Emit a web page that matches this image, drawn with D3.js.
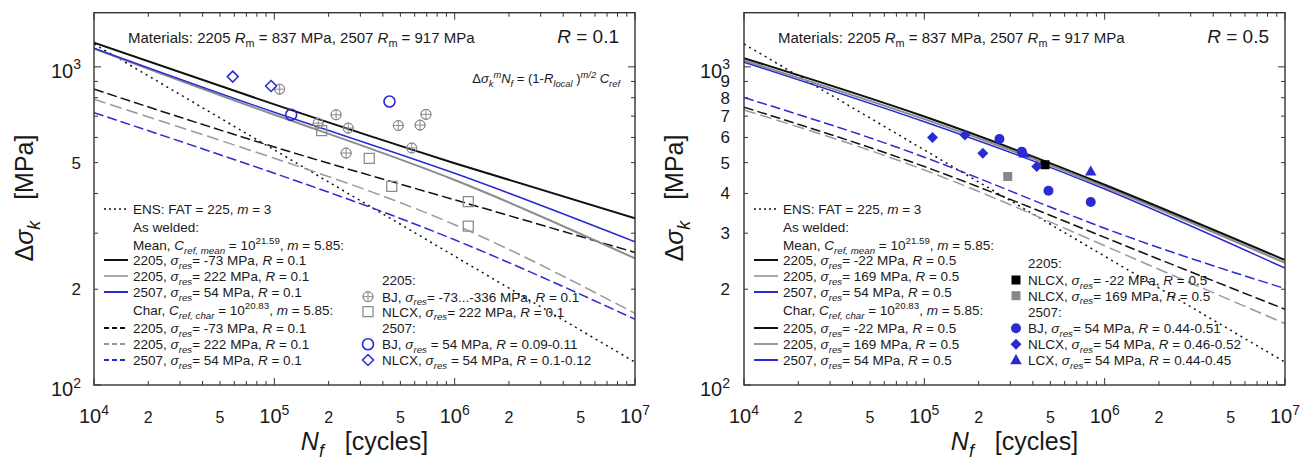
<!DOCTYPE html>
<html><head><meta charset="utf-8">
<script src="https://cdn.jsdelivr.net/npm/d3@7"></script>
<style>
body{margin:0;background:#fff}
svg{display:block}
text{font-family:"Liberation Sans",Arial,Helvetica,sans-serif;fill:#1a1a1a;white-space:pre}
</style>
</head><body>
<svg id="c" width="1300" height="461"></svg>
<script>
// ---------------- DATA ----------------
const N_GRID = [1e4, 1e5, 1e6, 1e7];
// R = 0.1 panel curves (MPa at N_GRID)
const L_ENS        = [1180, 548, 254, 118];
const L_MEAN_2205A = [1192, 762, 498, 334];   // sigma_res = -73
const L_MEAN_2205B = [1141, 707, 441, 250];   // sigma_res = 222
const L_MEAN_2507  = [1145, 720, 463, 282];   // sigma_res = 54
const L_CHAR_2205A = [851, 560, 382, 261];
const L_CHAR_2205B = [791, 516, 319, 168];
const L_CHAR_2507  = [718, 463, 286, 161];
// R = 0.5 panel curves
const R_ENS        = [1180, 548, 254, 118];
const R_MEAN_2205A = [1065, 698, 426, 247];   // sigma_res = -22
const R_MEAN_2205B = [1047, 685, 420, 242];   // sigma_res = 169
const R_MEAN_2507  = [1034, 672, 413, 233];
const R_CHAR_2205A = [747, 486, 291, 173];
const R_CHAR_2205B = [732, 474, 274, 156];
const R_CHAR_2507  = [801, 520, 311, 201];
// R = 0.1 test data
const L_BJ2205_N   = [107e3, 220e3, 175e3, 257e3, 250e3, 487e3, 643e3, 693e3, 578e3];
const L_BJ2205_S   = [851, 707, 665, 642, 536, 654, 656, 709, 556];
const L_NLCX2205_N = [183e3, 336e3, 448e3, 1.19e6, 1.19e6];
const L_NLCX2205_S = [630, 516, 421, 377, 316];
const L_BJ2507_N   = [124e3, 435e3];
const L_BJ2507_S   = [707, 778];
const L_NLCX2507_N = [58.8e3, 95.9e3];
const L_NLCX2507_S = [932, 871];
// R = 0.5 test data
const R_NLCX2205A_N = [467e3];
const R_NLCX2205A_S = [492];
const R_NLCX2205B_N = [290e3];
const R_NLCX2205B_S = [452];
const R_BJ2507_N   = [261e3, 347e3, 488e3, 837e3];
const R_BJ2507_S   = [593, 541, 408, 376];
const R_NLCX2507_N = [111e3, 168e3, 211e3, 420e3];
const R_NLCX2507_S = [600, 611, 535, 486];
const R_LCX2507_N  = [358e3, 837e3];
const R_LCX2507_S  = [535, 469];
// tick labels
const X_TICKS = [[1e4,'10','4'],[2e4,'2'],[5e4,'5'],[1e5,'10','5'],[2e5,'2'],[5e5,'5'],[1e6,'10','6'],[2e6,'2'],[5e6,'5'],[1e7,'10','7']];
const Y_TICKS_L = [[1000,'10','3'],[500,'5'],[200,'2'],[100,'10','2']];
const Y_TICKS_R = [[1000,'10','3'],[900,'9'],[800,'8'],[700,'7'],[600,'6'],[500,'5'],[400,'4'],[300,'3'],[200,'2'],[100,'10','2']];

// ---------------- STYLE ----------------
const BLACK = '#111', GREY = '#8c8c8c', GREYD = '#9a9a9a', BLUE = '#2b2bd2';
const PW = 541, YT = 12.7, YB = 385, LFS = 13.5;
const svg = d3.select('#c');

function rich(g, x, y, segs, size, anchor) {
  const t = g.append('text').attr('x', x).attr('y', y).attr('font-size', size)
    .attr('text-anchor', anchor || 'start');
  let off = 0;
  segs.forEach(s => {
    if (typeof s === 'string') s = {t: s};
    let target = 0, fs = size;
    if (s.sub) { target = size * 0.28; fs = size * 0.72; }
    if (s.sup) { target = -size * 0.42; fs = size * 0.72; }
    const ts = t.append('tspan').text(s.t).attr('font-size', fs);
    if (target - off !== 0) ts.attr('dy', target - off);
    if (s.i) ts.attr('font-style', 'italic');
    off = target;
  });
  return t;
}

function markerPath(type, r) {
  if (type === 'diamond') return `M0,${-r}L${r},0L0,${r}L${-r},0Z`;
  if (type === 'square') return `M${-r},${-r}H${r}V${r}H${-r}Z`;
  if (type === 'triangle') return `M0,${-r*1.1}L${r*1.05},${r*0.75}L${-r*1.05},${r*0.75}Z`;
  if (type === 'circle') return d3.arc()({innerRadius:0, outerRadius:r, startAngle:0, endAngle:2*Math.PI});
  if (type === 'oplus') return `M${-r},0H${r}M0,${-r}V${r}` + d3.arc()({innerRadius:r, outerRadius:r, startAngle:0, endAngle:2*Math.PI});
}
function drawMarker(g, x, y, m) {
  const p = g.append('path').attr('transform', `translate(${x},${y})`).attr('d', markerPath(m.type, m.r));
  if (m.fill) p.attr('fill', m.color).attr('stroke', 'none');
  else p.attr('fill', 'none').attr('stroke', m.color).attr('stroke-width', m.sw || 1.3);
}

const sres = (v) => [{t:'σ', i:true}, {t:'res', i:true, sub:true}, v];

function panel(cfg) {
  const x0 = cfg.x0;
  const x = d3.scaleLog().domain([1e4, 1e7]).range([x0, x0 + PW]);
  const y = d3.scaleLog().domain([100, 1480]).range([YB, YT]);
  const g = svg.append('g');
  const clipId = 'clip' + x0;
  g.append('clipPath').attr('id', clipId).append('rect')
    .attr('x', x0).attr('y', YT).attr('width', PW).attr('height', YB - YT);

  // ticks
  const tg = g.append('g').attr('stroke', '#333').attr('stroke-width', 1);
  const xt = [];
  [1e4, 1e5, 1e6].forEach(d => { for (let k = 1; k < 10; k++) xt.push([k * d, k === 1]); });
  xt.push([1e7, true]);
  xt.forEach(([v, maj]) => {
    const px = x(v), L = maj ? 7 : 4;
    tg.append('line').attr('x1', px).attr('x2', px).attr('y1', YB).attr('y2', YB - L);
    tg.append('line').attr('x1', px).attr('x2', px).attr('y1', YT).attr('y2', YT + L);
  });
  const yt = [];
  for (let k = 1; k <= 10; k++) yt.push([k * 100, k === 1 || k === 10]);
  yt.forEach(([v, maj]) => {
    const py = y(v), L = maj ? 7 : 4;
    tg.append('line').attr('x1', x0).attr('x2', x0 + L).attr('y1', py).attr('y2', py);
    tg.append('line').attr('x1', x0 + PW).attr('x2', x0 + PW - L).attr('y1', py).attr('y2', py);
  });

  // tick labels
  X_TICKS.forEach(([v, a, b]) => {
    if (b) rich(g, x(v), 423, [a, {t: b, sup: true}], 20, 'middle').select('tspan:last-child').attr('font-size', 14);
    else rich(g, x(v), 423, [a], 16, 'middle');
  });
  cfg.yticks.forEach(([v, a, b]) => {
    if (b) {
      const t = rich(g, x0 - cfg.ylabGap, y(v) + 11, [a, {t: b, sup: true}], 20, 'end');
      t.select('tspan:last-child').attr('font-size', 14);
    } else rich(g, x0 - cfg.ylabGap, y(v) + 6, [a], 17, 'end');
  });

  // axis titles
  rich(g, x0 + PW / 2, 450, [{t:'N', i:true}, {t:'f', i:true, sub:true}, '   [cycles]'], 25, 'middle');
  const yt2 = rich(g, 0, 0, ['Δ', {t:'σ', i:true}, {t:'k', i:true, sub:true}, '   [MPa]'], 25, 'middle');
  yt2.attr('transform', `translate(${x0 - 61},198) rotate(-90)`);

  // curves
  const cg = g.append('g').attr('clip-path', `url(#${clipId})`);
  const line = d3.line().x((d, i) => x(N_GRID[i])).y(d => y(d)).curve(d3.curveNatural);
  cfg.curves.forEach(c => {
    const p = cg.append('path').attr('d', line(c.v)).attr('fill', 'none')
      .attr('stroke', c.color).attr('stroke-width', c.w);
    if (c.dash) p.attr('stroke-dasharray', c.dash);
  });

  // markers
  cfg.markers.forEach(m => {
    m.N.forEach((n, i) => drawMarker(cg, x(n), y(m.S[i]), m));
  });

  // frame
  g.append('rect').attr('x', x0).attr('y', YT).attr('width', PW).attr('height', YB - YT)
    .attr('fill', 'none').attr('stroke', '#333').attr('stroke-width', 1.4);

  // header texts
  rich(g, x0 + 34, 43, ['Materials: 2205 ', {t:'R', i:true}, {t:'m', sub:true}, ' = 837 MPa, 2507 ', {t:'R', i:true}, {t:'m', sub:true}, ' = 917 MPa'], 15);
  rich(g, x0 + PW - 16, 43, [{t:'R', i:true}, ' = ' + cfg.R], 19, 'end');
  if (cfg.formula) {
    rich(g, x0 + PW - 15, 83, ['Δ', {t:'σ', i:true}, {t:'k', i:true, sub:true}, {t:'m', i:true, sup:true}, {t:'N', i:true}, {t:'f', i:true, sub:true}, ' = (1-', {t:'R', i:true}, {t:'local', i:true, sub:true}, ' )', {t:'m/2', i:true, sup:true}, ' ', {t:'C', i:true}, {t:'ref', i:true, sub:true}], 13, 'end');
  }

  // line legend
  const lx = x0 + 10, tx = x0 + 39;
  cfg.lineLegend.forEach(r => {
    if (r.line) {
      const p = g.append('line').attr('x1', lx).attr('x2', lx + 24).attr('y1', r.y).attr('y2', r.y)
        .attr('stroke', r.line.color).attr('stroke-width', r.line.w);
      if (r.line.dash) p.attr('stroke-dasharray', r.line.dash);
    }
    rich(g, tx, r.y + 5, r.segs, LFS);
  });
  // marker legend
  cfg.markerLegend.forEach(r => {
    if (r.m) drawMarker(g, cfg.mlx, r.y, r.m);
    rich(g, cfg.mtx, r.y + 5, r.segs, LFS);
  });
}

const M = {
  oplus: {type:'oplus', r:5, color:'#8c8c8c', sw:1},
  osq: {type:'square', r:5, color:'#8c8c8c', sw:1.3},
  ocirc: {type:'circle', r:5.5, color:BLUE, sw:1.6},
  odia: {type:'diamond', r:5.5, color:BLUE, sw:1.5},
  ksq: {type:'square', r:4.5, color:'#000', fill:true},
  gsq: {type:'square', r:4.5, color:'#888', fill:true},
  fcirc: {type:'circle', r:5, color:BLUE, fill:true},
  fdia: {type:'diamond', r:5.5, color:BLUE, fill:true},
  ftri: {type:'triangle', r:5.5, color:BLUE, fill:true}
};

function lineRows(Rv, a, b, c, charSolid) {
  const dsh = charSolid ? null : '5,3';
  const rowY = [209, 226.5, 245, 260, 276, 292, 310, 328, 344, 360];
  return [
    {y: rowY[0], line:{color:BLACK, w:1.5, dash:'2,3'}, segs:['ENS: FAT = 225, ', {t:'m', i:true}, ' = 3']},
    {y: rowY[1], segs:['As welded:']},
    {y: rowY[2], segs:['Mean, ', {t:'C', i:true}, {t:'ref, mean', i:true, sub:true}, ' = 10', {t:'21.59', sup:true}, ', ', {t:'m', i:true}, ' = 5.85:']},
    {y: rowY[3], line:{color:BLACK, w:2}, segs:['2205, ', ...sres('= ' + a + ' MPa, '), {t:'R', i:true}, ' = ' + Rv]},
    {y: rowY[4], line:{color:GREY, w:1.5}, segs:['2205, ', ...sres('= ' + b + ' MPa, '), {t:'R', i:true}, ' = ' + Rv]},
    {y: rowY[5], line:{color:BLUE, w:2}, segs:['2507, ', ...sres('= ' + c + ' MPa, '), {t:'R', i:true}, ' = ' + Rv]},
    {y: rowY[6], segs:['Char, ', {t:'C', i:true}, {t:'ref, char', i:true, sub:true}, ' = 10', {t:'20.83', sup:true}, ', ', {t:'m', i:true}, ' = 5.85:']},
    {y: rowY[7], line:{color:BLACK, w:2, dash:dsh}, segs:['2205, ', ...sres('= ' + a + ' MPa, '), {t:'R', i:true}, ' = ' + Rv]},
    {y: rowY[8], line:{color:GREYD, w:2, dash:dsh}, segs:['2205, ', ...sres('= ' + b + ' MPa, '), {t:'R', i:true}, ' = ' + Rv]},
    {y: rowY[9], line:{color:BLUE, w:2, dash:dsh}, segs:['2507, ', ...sres('= ' + c + ' MPa, '), {t:'R', i:true}, ' = ' + Rv]}
  ];
}

panel({
  x0: 94, R: '0.1', formula: true, yticks: Y_TICKS_L, ylabGap: 13,
  curves: [
    {v: L_ENS, color: BLACK, w: 1.5, dash: '2,4'},
    {v: L_CHAR_2205A, color: BLACK, w: 1.5, dash: '10,4'},
    {v: L_CHAR_2205B, color: GREYD, w: 1.5, dash: '12,5'},
    {v: L_CHAR_2507, color: BLUE, w: 1.5, dash: '10,4'},
    {v: L_MEAN_2205B, color: GREY, w: 2},
    {v: L_MEAN_2507, color: BLUE, w: 1.5},
    {v: L_MEAN_2205A, color: BLACK, w: 2}
  ],
  markers: [
    Object.assign({N: L_BJ2205_N, S: L_BJ2205_S}, M.oplus),
    Object.assign({N: L_NLCX2205_N, S: L_NLCX2205_S}, M.osq),
    Object.assign({N: L_BJ2507_N, S: L_BJ2507_S}, M.ocirc),
    Object.assign({N: L_NLCX2507_N, S: L_NLCX2507_S}, M.odia)
  ],
  lineLegend: lineRows('0.1', '-73', '222', '54', false),
  mlx: 368, mtx: 382,
  markerLegend: [
    {y: 280, segs:['2205:']},
    {y: 296.7, m: M.oplus, segs:['BJ, ', ...sres('= -73...-336 MPa, '), {t:'R', i:true}, ' = 0.1']},
    {y: 311.7, m: M.osq, segs:['NLCX, ', ...sres('= 222 MPa, '), {t:'R', i:true}, ' = 0.1']},
    {y: 328.3, segs:['2507:']},
    {y: 344.3, m: M.ocirc, segs:['BJ, ', ...sres(' = 54 MPa, '), {t:'R', i:true}, ' = 0.09-0.11']},
    {y: 360, m: M.odia, segs:['NLCX, ', ...sres(' = 54 MPa, '), {t:'R', i:true}, ' = 0.1-0.12']}
  ]
});

panel({
  x0: 744, R: '0.5', formula: false, yticks: Y_TICKS_R, ylabGap: 14,
  curves: [
    {v: R_ENS, color: BLACK, w: 1.5, dash: '2,4'},
    {v: R_CHAR_2205A, color: BLACK, w: 1.5, dash: '10,4'},
    {v: R_CHAR_2205B, color: GREYD, w: 1.5, dash: '12,5'},
    {v: R_CHAR_2507, color: BLUE, w: 1.5, dash: '10,4'},
    {v: R_MEAN_2205B, color: GREY, w: 2},
    {v: R_MEAN_2507, color: BLUE, w: 1.5},
    {v: R_MEAN_2205A, color: BLACK, w: 2}
  ],
  markers: [
    Object.assign({N: R_NLCX2205A_N, S: R_NLCX2205A_S}, M.ksq),
    Object.assign({N: R_NLCX2205B_N, S: R_NLCX2205B_S}, M.gsq),
    Object.assign({N: R_BJ2507_N, S: R_BJ2507_S}, M.fcirc),
    Object.assign({N: R_NLCX2507_N, S: R_NLCX2507_S}, M.fdia),
    Object.assign({N: R_LCX2507_N, S: R_LCX2507_S}, M.ftri)
  ],
  lineLegend: lineRows('0.5', '-22', '169', '54', true),
  mlx: 1016, mtx: 1028,
  markerLegend: [
    {y: 263.3, segs:['2205:']},
    {y: 280, m: M.ksq, segs:['NLCX, ', ...sres('= -22 MPa, '), {t:'R', i:true}, ' = 0.5']},
    {y: 295.7, m: M.gsq, segs:['NLCX, ', ...sres('= 169 MPa, '), {t:'R', i:true}, ' = 0.5']},
    {y: 311.7, segs:['2507:']},
    {y: 328.3, m: M.fcirc, segs:['BJ, ', ...sres('= 54 MPa, '), {t:'R', i:true}, ' = 0.44-0.51']},
    {y: 344.3, m: M.fdia, segs:['NLCX, ', ...sres('= 54 MPa, '), {t:'R', i:true}, ' = 0.46-0.52']},
    {y: 360, m: M.ftri, segs:['LCX, ', ...sres('= 54 MPa, '), {t:'R', i:true}, ' = 0.44-0.45']}
  ]
});
</script>
</body></html>
